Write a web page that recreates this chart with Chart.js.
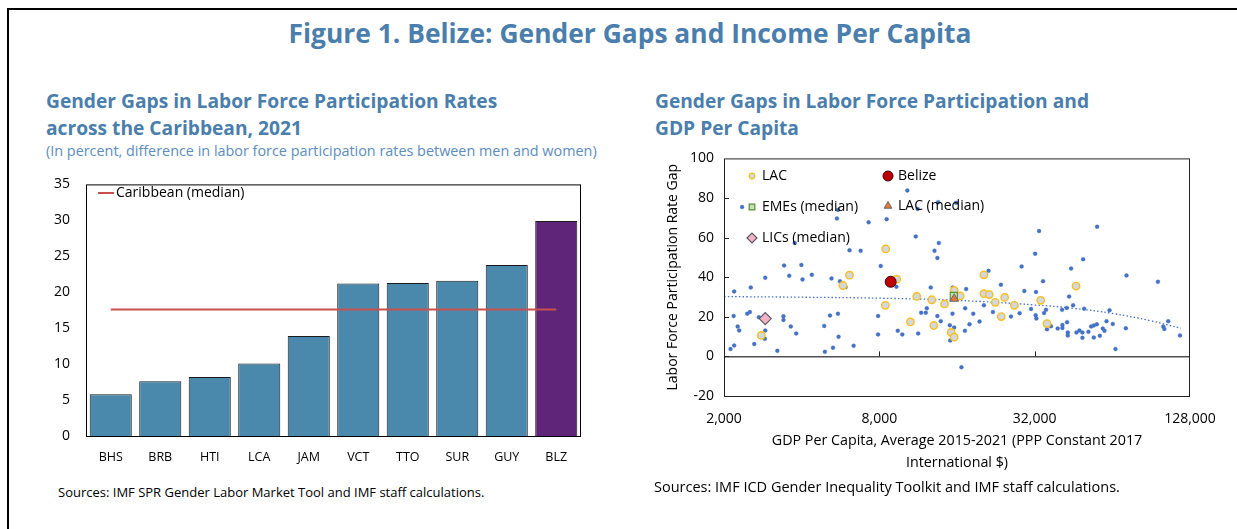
<!DOCTYPE html>
<html lang="en">
<head>
<meta charset="UTF-8">
<title>Figure 1. Belize: Gender Gaps and Income Per Capita</title>
<script src="https://cdn.jsdelivr.net/npm/chart.js@4.4.0/dist/chart.umd.min.js"></script>
<style>
  body { margin: 0; width: 1237px; height: 529px; background: #fff; position: relative; overflow: hidden;
         font-family: "Open Sans", sans-serif; color: #000; }
  .frame { position: absolute; left: 7px; top: 8px; width: 1260px; height: 540px;
           border-top: 2px solid #000; border-left: 2px solid #000; }
  .main-title { position: absolute; left: 0; width: 1260px; top: 16px; line-height: 34px; text-align: center;
                font-weight: 700; font-size: 26.4px; color: #4a7eac; }
  .chart-title { position: absolute; font-weight: 700; font-size: 19.2px; line-height: 27px; color: #4a7eac; }
  .subtitle { position: absolute; font-size: 14.4px; line-height: 18px; color: #5b8dbd; }
  .source { position: absolute; font-size: 13px; line-height: 18px; }
  canvas { position: absolute; }
</style>
</head>
<body>
<div class="frame"></div>
<div class="main-title">Figure 1. Belize: Gender Gaps and Income Per Capita</div>

<div class="chart-title" style="left:46px; top:87px;">Gender Gaps in Labor Force Participation Rates<br>across the Caribbean, 2021</div>
<div class="subtitle" style="left:46px; top:142px;">(In percent, difference in labor force participation rates between men and women)</div>
<canvas id="barChart" width="560" height="310" style="left:40px; top:160px;"></canvas>
<div class="source" style="left:58px; top:483px;">Sources: IMF SPR Gender Labor Market Tool and IMF staff calculations.</div>

<div class="chart-title" style="left:655px; top:87px;">Gender Gaps in Labor Force Participation and<br>GDP Per Capita</div>
<canvas id="scatterChart" width="597" height="340" style="left:640px; top:140px;"></canvas>
<div class="source" style="left:654px; top:478px; font-size:14.5px;">Sources: IMF ICD Gender Inequality Toolkit and IMF staff calculations.</div>

<script>
// ---- bar chart: LFP gender gap by country, 2021 ----
var countries = ['BHS', 'BRB', 'HTI', 'LCA', 'JAM', 'VCT', 'TTO', 'SUR', 'GUY', 'BLZ'];
var lfpGap = [5.8, 7.6, 8.2, 10.1, 13.9, 21.2, 21.3, 21.6, 23.8, 29.9];
var caribbeanMedian = 17.6;
var barTicks = [0, 5, 10, 15, 20, 25, 30, 35];

// ---- scatter: gap vs GDP per capita (PPP, 2017 $) ----
var allGdp = [2350, 10270, 13520, 15880, 11270, 5530, 5480, 7270, 8540, 11070, 13600, 13090, 13430, 3760, 6130,
  6770, 3420, 3990, 8100, 33280, 55870, 32140, 49320, 28480, 44290, 72630, 96130, 2890, 3580, 4030, 4380, 5220,
  5630, 5920, 9320, 2540, 2190, 12660, 15410, 17360, 21200, 23680, 29180, 32380, 34490, 43510, 45100, 42620,
  40870, 49760, 62400, 20340, 22050, 18500, 30980, 35400, 34790, 27980, 25900, 32290, 32490, 13430, 12220,
  11620, 12110, 13840, 15370, 17210, 17890, 19570, 7910, 5530, 5150, 4890, 5560, 15010, 15600, 15060, 17170,
  9430, 9820, 11310, 7910, 6360, 5290, 4920, 3220, 2620, 2190, 2120, 2180, 2260, 2290, 2460, 2520, 2730, 3400,
  3400, 3630, 3810, 2890, 2880, 16650, 36030, 37020, 35720, 39300, 40990, 40990, 42730, 43000, 43000, 46460,
  47710, 49000, 49000, 51700, 52960, 54240, 55720, 54240, 57250, 58780, 59680, 60760, 64260, 65840, 72200,
  100870, 101760, 105420, 117060];
var allGap = [75.4, 83.8, 77.9, 77.6, 74.5, 74.0, 69.7, 67.7, 69.3, 60.6, 57.3, 53.4, 49.7, 57.3, 53.6,
  53.4, 45.9, 46.2, 45.6, 63.3, 65.5, 51.9, 49.1, 45.4, 44.4, 40.9, 37.7, 39.7, 40.7, 38.9, 41.2, 39.4,
  38.0, 35.0, 35.2, 34.8, 32.8, 34.8, 34.8, 34.0, 43.2, 36.2, 33.0, 32.5, 38.0, 30.2, 25.8, 24.5,
  23.5, 24.1, 23.3, 25.8, 22.4, 21.6, 24.0, 23.5, 21.9, 21.8, 20.1, 20.8, 19.1, 20.4, 24.3,
  22.1, 22.1, 17.8, 21.6, 24.3, 16.2, 17.6, 20.4, 21.6, 20.6, 15.4, 9.9, 15.7, 14.6, 8.0, 12.9,
  12.9, 11.1, 11.6, 11.1, 5.4, 4.4, 2.3, 2.8, 6.2, 5.5, 3.7, 20.4, 15.1, 13.1, 21.6, 22.4, 19.8, 20.3,
  18.4, 15.1, 11.6, 13.1, 8.9, -5.5, 16.8, 15.2, 13.7, 14.1, 15.9, 14.4, 17.3, 12.1, 10.6, 12.1,
  13.1, 12.1, 9.4, 12.4, 15.1, 15.6, 16.2, 9.5, 10.4, 14.1, 12.9, 17.8, 16.4, 3.7, 14.2,
  15.1, 13.9, 17.8, 10.6];
var lacGdp = [8470, 6130, 5780, 9340, 15600, 16460, 20340, 20340, 21330, 24480, 46300, 33760, 11170, 12780,
  14310, 8440, 22510, 26690, 23750, 35720, 10560, 13010, 15190, 15600, 2790];
var lacGap = [54.3, 41.0, 35.8, 39.0, 33.3, 30.5, 41.2, 31.7, 31.2, 29.8, 35.5, 28.3, 30.3, 28.6,
  26.5, 25.8, 27.3, 25.8, 20.1, 16.6, 17.4, 15.6, 12.1, 9.7, 10.6];
var belize = { gdp: 8850, gap: 37.7 };
var emeMedian = { gdp: 15550, gap: 30.5 };
var lacMedian = { gdp: 15600, gap: 29.1 };
var licMedian = { gdp: 2890, gap: 19.1 };
var trendGdp = [2000, 4000, 8000, 16000, 32000, 45000, 64000, 90000, 118000];
var trendGap = [30.2, 29.9, 29.4, 28.3, 26.0, 24.3, 21.7, 18.0, 14.2];
var gdpTicks = [2000, 8000, 32000, 128000];

var BLUE_BAR = '#4a89ab';
var PURPLE_BAR = '#5f2579';
var DOT_BLUE = '#4472c4';

function pairs(xs, ys) {
  return xs.map(function (x, i) { return { x: x, y: ys[i] }; });
}

// outline around the plot area plus short inward tick marks
var plotFrame = {
  id: 'plotFrame',
  afterDraw: function (chart, args, opts) {
    var ctx = chart.ctx, a = chart.chartArea;
    ctx.save();
    ctx.strokeStyle = opts.color || '#000';
    ctx.lineWidth = 1;
    ctx.strokeRect(a.left + 0.5, a.top + 0.5, a.right - a.left - 1, a.bottom - a.top);
    (opts.xMarks || []).forEach(function (m) {
      var px = Math.round(chart.scales.x.getPixelForValue(m.value)) + 0.5;
      var py = m.at != null ? chart.scales.y.getPixelForValue(m.at) : a.bottom;
      ctx.beginPath(); ctx.moveTo(px, py); ctx.lineTo(px, py - 5); ctx.stroke();
    });
    (opts.yMarks || []).forEach(function (v) {
      var py = Math.round(chart.scales.y.getPixelForValue(v)) + 0.5;
      ctx.beginPath(); ctx.moveTo(a.left, py); ctx.lineTo(a.left + 5, py); ctx.stroke();
    });
    ctx.restore();
  }
};

// legend placed inside the plot area
var insideLegend = {
  id: 'insideLegend',
  afterDraw: function (chart, args, opts) {
    var ctx = chart.ctx;
    ctx.save();
    ctx.font = opts.font;
    ctx.textBaseline = 'middle';
    opts.items.forEach(function (it) {
      var ds = chart.data.datasets[it.dataset];
      ctx.fillStyle = ds.backgroundColor;
      ctx.strokeStyle = ds.borderColor;
      ctx.lineWidth = it.bw || ds.borderWidth;
      if (it.line) {
        ctx.beginPath(); ctx.moveTo(it.x - 8, it.y); ctx.lineTo(it.x + 8, it.y); ctx.stroke();
      } else {
        Chart.helpers.drawPoint(ctx, {
          pointStyle: ds.pointStyle || 'circle', rotation: 0,
          radius: it.r, borderWidth: it.bw || ds.borderWidth
        }, it.x, it.y);
      }
      ctx.fillStyle = '#000';
      ctx.fillText(ds.label, it.x + it.dx, it.y);
    });
    ctx.restore();
  }
};

new Chart(document.getElementById('barChart'), {
  type: 'bar',
  data: {
    labels: countries,
    datasets: [{
      type: 'line',
      label: 'Caribbean (median)',
      data: countries.map(function () { return caribbeanMedian; }),
      borderColor: '#c9504e',
      backgroundColor: '#c9504e',
      borderWidth: 2,
      pointRadius: 0,
      order: 0
    }, {
      label: 'Gap',
      data: lfpGap,
      backgroundColor: countries.map(function (c) { return c === 'BLZ' ? PURPLE_BAR : BLUE_BAR; }),
      borderColor: '#1b1b1b',
      borderWidth: 1,
      barPercentage: 0.85,
      categoryPercentage: 1,
      order: 1
    }]
  },
  options: {
    responsive: false,
    animation: false,
    devicePixelRatio: 1,
    layout: { padding: { top: 14, right: 19, bottom: 0, left: 0 } },
    plugins: {
      legend: { display: false },
      tooltip: { enabled: false },
      plotFrame: {
        color: '#000',
        xMarks: countries.slice(1).map(function (c, i) { return { value: i + 0.5 }; })
      },
      insideLegend: {
        font: '14px "Open Sans"',
        items: [{ dataset: 0, line: true, x: 66, y: 33, dx: 10 }]
      }
    },
    scales: {
      x: {
        grid: { display: false, drawTicks: false },
        border: { display: false },
        ticks: { color: '#000', font: { family: 'Open Sans', size: 12.5 }, padding: 14 },
        afterFit: function (s) { s.height = 34; }
      },
      y: {
        min: 0, max: 35,
        afterBuildTicks: function (s) { s.ticks = barTicks.map(function (v) { return { value: v }; }); },
        grid: { display: false, drawTicks: false },
        border: { display: false },
        ticks: { color: '#000', font: { family: 'Open Sans', size: 14 }, padding: 16 },
        afterFit: function (s) { s.width = 46; }
      }
    }
  },
  plugins: [plotFrame, insideLegend]
});

new Chart(document.getElementById('scatterChart'), {
  type: 'scatter',
  data: {
    datasets: [{
      label: 'Belize', data: [{ x: belize.gdp, y: belize.gap }],
      pointStyle: 'circle', pointRadius: 5.5, backgroundColor: '#c00000', borderColor: '#3a0000', borderWidth: 1, order: 1
    }, {
      label: 'LAC (median)', data: [{ x: lacMedian.gdp, y: lacMedian.gap }],
      pointStyle: 'triangle', pointRadius: 5, backgroundColor: '#e2793a', borderColor: '#6b6b6b', borderWidth: 1, order: 2
    }, {
      label: 'EMEs (median)', data: [{ x: emeMedian.gdp, y: emeMedian.gap }],
      pointStyle: 'rect', pointRadius: 5, backgroundColor: '#c6e0b4', borderColor: '#5c8f3a', borderWidth: 1.2, order: 3
    }, {
      label: 'LICs (median)', data: [{ x: licMedian.gdp, y: licMedian.gap }],
      pointStyle: 'rectRot', pointRadius: 6, backgroundColor: '#f4b3c2', borderColor: '#5a5a6a', borderWidth: 1.2, order: 2
    }, {
      label: 'LAC', data: pairs(lacGdp, lacGap),
      pointStyle: 'circle', pointRadius: 3.7, backgroundColor: '#d3d7df', borderColor: '#f9bf1a', borderWidth: 1.4, order: 4
    }, {
      label: 'Trend', data: pairs(trendGdp, trendGap), showLine: true, tension: 0.4,
      borderColor: DOT_BLUE, backgroundColor: DOT_BLUE, borderWidth: 1.3, borderDash: [1.5, 2.2], pointRadius: 0, order: 5
    }, {
      label: 'All countries', data: pairs(allGdp, allGap),
      pointStyle: 'circle', pointRadius: 2, backgroundColor: DOT_BLUE, borderColor: 'rgba(68,114,196,0.3)', borderWidth: 1, order: 6
    }]
  },
  options: {
    responsive: false,
    animation: false,
    devicePixelRatio: 1,
    layout: { padding: { top: 18, right: 47, bottom: 0, left: 0 } },
    plugins: {
      legend: { display: false },
      tooltip: { enabled: false },
      plotFrame: {
        color: '#222',
        xMarks: [{ value: 8000, at: 0 }, { value: 32000, at: 0 }],
        yMarks: [0, 20, 40, 60, 80]
      },
      insideLegend: {
        font: '14px "Open Sans"',
        items: [
          { dataset: 4, x: 112, y: 36, dx: 10, r: 2.8, bw: 1.2 },
          { dataset: 0, x: 248, y: 36, dx: 10, r: 5 },
          { dataset: 2, x: 112, y: 67, dx: 10, r: 4 },
          { dataset: 1, x: 248, y: 66, dx: 10, r: 4.5 },
          { dataset: 3, x: 112, y: 98, dx: 10, r: 5 }
        ]
      }
    },
    scales: {
      x: {
        type: 'logarithmic',
        min: 2000, max: 128000,
        afterBuildTicks: function (s) { s.ticks = gdpTicks.map(function (v) { return { value: v }; }); },
        grid: { display: false, drawTicks: false },
        border: { display: false },
        ticks: {
          color: '#000', font: { family: 'Open Sans', size: 14 }, padding: 15, autoSkip: false, maxRotation: 0,
          callback: function (v) { return Number(v).toLocaleString('en-US'); }
        },
        title: {
          display: true, color: '#000',
          text: ['GDP Per Capita, Average 2015-2021 (PPP Constant 2017', 'International $)'],
          font: { family: 'Open Sans', size: 14.3, lineHeight: '22px' },
          padding: { top: 0, bottom: 6 }
        },
        afterFit: function (s) { s.height = 84; }
      },
      y: {
        min: -20, max: 100,
        ticks: { stepSize: 20, color: '#000', font: { family: 'Open Sans', size: 14 }, padding: 10 },
        grid: {
          drawTicks: false,
          color: function (c) { return c.tick && c.tick.value === 0 ? '#505050' : 'rgba(0,0,0,0)'; },
          lineWidth: 1.6
        },
        border: { display: false },
        title: {
          display: true, color: '#000', text: 'Labor Force Participation Rate Gap',
          font: { family: 'Open Sans', size: 14 }, padding: { top: 25, bottom: 0 }
        },
        afterFit: function (s) { s.width = 84; }
      }
    }
  },
  plugins: [plotFrame, insideLegend]
});
</script>
</body>
</html>
